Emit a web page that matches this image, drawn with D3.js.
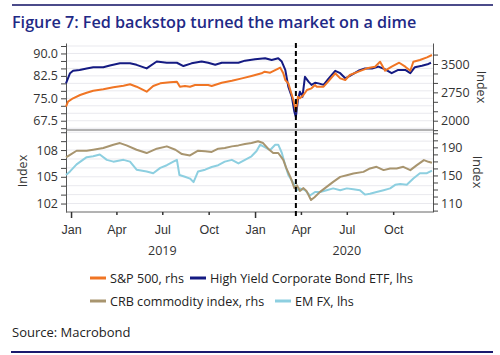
<!DOCTYPE html>
<html><head><meta charset="utf-8">
<script src="https://cdn.jsdelivr.net/npm/d3@7"></script>
<style>
html,body{margin:0;padding:0;background:#fff;}
svg{display:block;font-family:"Open Sans",sans-serif;}
</style></head>
<body><svg id="c" width="500" height="355"></svg>
<script>
// ---------------- DATA ----------------
const hyDates = ["2018-12-22","2018-12-30","2019-01-05","2019-01-18","2019-02-01","2019-02-14","2019-03-06","2019-03-19","2019-04-08","2019-04-28","2019-05-11","2019-05-31","2019-06-20","2019-07-10","2019-07-30","2019-08-12","2019-08-28","2019-09-17","2019-09-30","2019-10-14","2019-10-27","2019-11-09","2019-11-29","2019-12-12","2020-01-01","2020-01-21","2020-02-03","2020-02-16","2020-02-23","2020-03-01","2020-03-07","2020-03-14","2020-03-19","2020-03-22","2020-03-26","2020-03-30","2020-04-04","2020-04-09","2020-04-16","2020-04-22","2020-04-29","2020-05-06","2020-05-16","2020-05-25","2020-06-08","2020-06-18","2020-06-28","2020-07-07","2020-07-24","2020-08-06","2020-08-20","2020-09-02","2020-09-15","2020-09-28","2020-10-11","2020-10-25","2020-11-04","2020-11-13","2020-11-27","2020-12-10","2020-12-15"];
const hyValues = [80.0,83.4,84.2,84.5,85.0,85.4,85.4,86.0,86.7,86.7,86.2,85.0,87.3,86.9,86.9,85.8,86.7,87.3,86.9,86.2,86.9,86.9,86.9,87.6,88.1,88.4,87.8,88.4,87.3,84.5,78.9,75.5,70.5,68.8,74.4,77.2,75.5,82.2,80.6,79.5,80.2,80.0,79.5,81.4,84.2,83.4,81.7,82.5,84.2,85.0,85.0,85.6,84.7,83.4,84.5,84.5,83.4,85.4,85.9,86.5,86.9];

const spxDates = ["2018-12-22","2018-12-26","2019-01-05","2019-01-19","2019-02-01","2019-02-14","2019-03-06","2019-03-26","2019-04-15","2019-04-28","2019-05-11","2019-05-31","2019-06-13","2019-06-27","2019-07-16","2019-07-30","2019-08-05","2019-08-15","2019-08-25","2019-09-04","2019-09-30","2019-10-07","2019-10-27","2019-11-16","2019-12-06","2019-12-25","2020-01-14","2020-01-20","2020-01-31","2020-02-20","2020-02-26","2020-03-01","2020-03-07","2020-03-12","2020-03-17","2020-03-22","2020-03-26","2020-03-30","2020-04-06","2020-04-13","2020-04-22","2020-04-29","2020-05-02","2020-05-16","2020-05-25","2020-06-08","2020-06-18","2020-06-28","2020-07-07","2020-07-24","2020-08-10","2020-08-26","2020-09-05","2020-09-15","2020-09-28","2020-10-13","2020-10-25","2020-11-04","2020-11-10","2020-11-23","2020-12-07","2020-12-17"];
const spxValues = [2370,2503,2593,2680,2741,2794,2830,2884,2926,2963,2900,2767,2918,2989,3016,3032,2900,2920,2900,2944,2944,2918,3005,3058,3120,3183,3254,3297,3271,3404,3254,3077,2989,2767,2548,2250,2635,2593,2680,2812,2857,2944,2900,2900,3032,3254,3120,3077,3209,3297,3386,3429,3560,3323,3429,3534,3429,3323,3560,3606,3677,3738];

const crbDates = ["2018-12-22","2018-12-30","2019-01-12","2019-02-01","2019-02-14","2019-03-06","2019-03-26","2019-04-08","2019-04-21","2019-05-11","2019-05-31","2019-06-20","2019-07-10","2019-07-27","2019-08-09","2019-08-25","2019-09-10","2019-09-24","2019-10-07","2019-10-20","2019-11-02","2019-11-16","2019-11-29","2019-12-12","2019-12-25","2020-01-07","2020-01-17","2020-01-27","2020-02-06","2020-02-16","2020-02-26","2020-03-03","2020-03-12","2020-03-19","2020-03-24","2020-03-30","2020-04-06","2020-04-12","2020-04-21","2020-04-28","2020-05-09","2020-05-22","2020-06-04","2020-06-18","2020-07-01","2020-07-14","2020-08-03","2020-08-16","2020-08-29","2020-09-12","2020-09-25","2020-10-08","2020-10-21","2020-11-04","2020-11-17","2020-12-01","2020-12-10","2020-12-17"];
const crbValues = [175.7,179.4,185.2,185.2,186.6,189.0,193.8,196.1,192.8,186.6,181.9,188.1,191.4,186.6,180.4,178.5,185.2,184.3,183.5,188.1,189.0,191.4,192.8,194.7,196.1,198.6,196.1,188.1,181.9,182.0,172.3,160.4,146.1,131.9,136.0,128.0,132.0,128.0,115.0,119.0,126.6,133.7,140.9,148.0,150.4,152.9,155.1,160.0,162.3,157.6,160.0,160.0,162.3,157.6,164.7,171.9,169.4,168.0];

const emDates = ["2018-12-22","2018-12-30","2019-01-12","2019-02-01","2019-02-14","2019-02-27","2019-03-13","2019-03-26","2019-04-15","2019-04-28","2019-05-11","2019-05-31","2019-06-13","2019-06-27","2019-07-10","2019-07-23","2019-07-30","2019-08-04","2019-08-15","2019-08-25","2019-09-01","2019-09-10","2019-09-24","2019-10-07","2019-10-20","2019-11-02","2019-11-16","2019-11-29","2019-12-12","2019-12-25","2020-01-04","2020-01-11","2020-01-21","2020-01-31","2020-02-10","2020-02-16","2020-02-23","2020-03-01","2020-03-07","2020-03-17","2020-03-24","2020-03-30","2020-04-09","2020-04-19","2020-04-29","2020-05-09","2020-05-22","2020-06-04","2020-06-18","2020-07-01","2020-07-14","2020-07-27","2020-08-06","2020-08-16","2020-08-29","2020-09-12","2020-09-25","2020-10-05","2020-10-15","2020-10-28","2020-11-10","2020-11-23","2020-12-07","2020-12-17"];
const emValues = [105.2,105.6,106.4,107.2,107.3,107.5,106.9,106.7,106.9,106.7,105.8,105.6,105.4,106.0,106.3,106.7,106.9,105.2,105.0,104.8,104.4,105.6,105.8,106.1,106.3,106.7,106.9,106.5,106.9,107.3,107.9,108.6,108.3,108.0,108.6,108.6,107.7,106.3,105.2,104.3,103.5,103.7,103.5,102.9,103.3,103.3,103.5,103.7,103.5,103.7,103.6,103.5,103.0,103.1,103.3,103.5,103.7,104.1,104.2,104.1,104.8,105.4,105.4,105.7];

const xTickDates = ["2019-01-01","2019-04-01","2019-07-01","2019-10-01","2020-01-01","2020-04-01","2020-07-01","2020-10-01"];
const xTickLabels = ["Jan","Apr","Jul","Oct","Jan","Apr","Jul","Oct"];
const yearLabels = ["2019","2020"];
const yearCenters = ["2019-07-01","2020-07-01"];
const topLeftTicks = [67.5,75.0,82.5,90.0];
const topRightTicks = [2000,2750,3500];
const botLeftTicks = [102,105,108];
const botRightTicks = [110,150,190];
const markerDate = "2020-03-22";
const legendItems = [
  {name:"S&P 500, rhs", color:"#f07524"},
  {name:"High Yield Corporate Bond ETF, lhs", color:"#141a82"},
  {name:"CRB commodity index, rhs", color:"#a8956f"},
  {name:"EM FX, lhs", color:"#8dcfe0"}
];
const titleText = "Figure 7: Fed backstop turned the market on a dime";
const sourceText = "Source: Macrobond";

// ---------------- CHART ----------------
const P = d3.utcParse("%Y-%m-%d");
const svg = d3.select("#c");
const L = 66, R = 433, T1 = 43, B1 = 130, T2 = 130, B2 = 212;
const textCol = "#333";

const x = d3.scaleUtc().domain([P("2018-12-22"), P("2020-12-19")]).range([L, R]);
const yTL = d3.scaleLinear().domain([64.4, 93.5]).range([B1, T1]);
const yTR = d3.scaleLinear().domain([1754, 4056]).range([B1, T1]);
const yBL = d3.scaleLinear().domain([101.05, 110.25]).range([B2, T2]);
const yBR = d3.scaleLinear().domain([98, 214.7]).range([B2, T2]);

// header / footer rules
svg.append("line").attr("x1",12).attr("x2",493).attr("y1",5).attr("y2",5).attr("stroke","#4b4b8a").attr("stroke-width",2);
svg.append("line").attr("x1",11).attr("x2",493).attr("y1",352).attr("y2",352).attr("stroke","#1a1a6e").attr("stroke-width",2);
svg.append("text").attr("x",12).attr("y",28).attr("fill","#1f2a86").attr("font-size",16.2).attr("font-weight",600).text(titleText);
svg.append("text").attr("x",12).attr("y",337).attr("fill","#222").attr("font-size",13).text(sourceText);

// grid
const gridTop = d3.range(65, 93.1, 2.5);
svg.append("g").selectAll("line").data(gridTop).join("line")
  .attr("x1",L).attr("x2",R).attr("y1",d=>yTL(d)).attr("y2",d=>yTL(d)).attr("stroke","#e9e9ee").attr("stroke-width",1);
const gridBot = d3.range(102, 110.1, 1);
svg.append("g").selectAll("line").data(gridBot).join("line")
  .attr("x1",L).attr("x2",R).attr("y1",d=>yBL(d)).attr("y2",d=>yBL(d)).attr("stroke","#e9e9ee").attr("stroke-width",1);

// axes
function axisStyle(g){
  g.selectAll("path").attr("stroke","#555");
  g.selectAll("line").attr("stroke","#444");
  g.selectAll("text").attr("fill",textCol).attr("font-size",12.5).attr("font-family","Open Sans, sans-serif");
}
svg.append("g").attr("transform",`translate(${L},0)`)
  .call(d3.axisLeft(yTL).tickValues(d3.range(65,93.1,2.5)).tickSize(5).tickFormat(d=>topLeftTicks.includes(d)?d3.format(".1f")(d):"").tickSizeOuter(0))
  .call(axisStyle);
svg.append("g").attr("transform",`translate(${R},0)`)
  .call(d3.axisRight(yTR).tickValues(d3.range(1750,4000,250)).tickSize(5).tickFormat(d=>topRightTicks.includes(d)?d:"").tickSizeOuter(0))
  .call(axisStyle);
svg.append("g").attr("transform",`translate(${L},0)`)
  .call(d3.axisLeft(yBL).tickValues(d3.range(102,110.1,1)).tickSize(5).tickFormat(d=>botLeftTicks.includes(d)?d:"").tickSizeOuter(0))
  .call(axisStyle);
svg.append("g").attr("transform",`translate(${R},0)`)
  .call(d3.axisRight(yBR).tickValues(d3.range(100,211,10)).tickSize(5).tickFormat(d=>botRightTicks.includes(d)?d:"").tickSizeOuter(0))
  .call(axisStyle);

// panel borders
svg.append("line").attr("x1",L).attr("x2",R).attr("y1",B1).attr("y2",B1).attr("stroke","#666");
svg.append("line").attr("x1",L).attr("x2",R).attr("y1",B2).attr("y2",B2).attr("stroke","#666");

// x axis
const xt = xTickDates.map(P);
const xg = svg.append("g").attr("transform",`translate(0,${B2})`)
  .call(d3.axisBottom(x).tickValues(xt).tickSizeOuter(0).tickSize(3).tickFormat((d,i)=>xTickLabels[i]).tickPadding(10));
xg.select(".domain").remove();
xg.selectAll(".tick line").attr("stroke","#333").attr("stroke-width",1.5).attr("y2",(d,i)=>xTickLabels[i]==="Jan"?6:3);
xg.selectAll("text").attr("fill",textCol).attr("font-size",12.5);
svg.append("g").selectAll("text").data(yearLabels).join("text")
  .attr("x",(d,i)=>x(P(yearCenters[i]))).attr("y",255).attr("text-anchor","middle")
  .attr("fill",textCol).attr("font-size",12.5).text(d=>d);

// axis titles
svg.append("text").attr("transform","translate(477,87) rotate(90)").attr("text-anchor","middle").attr("fill",textCol).attr("font-size",12.5).text("Index");
svg.append("text").attr("transform","translate(473,172) rotate(90)").attr("text-anchor","middle").attr("fill",textCol).attr("font-size",12.5).text("Index");
svg.append("text").attr("transform","translate(27,171) rotate(-90)").attr("text-anchor","middle").attr("fill",textCol).attr("font-size",12.5).text("Index");

// lines
function series(dates, vals, ys, color){
  const pts = dates.map((d,i)=>[P(d), vals[i]]);
  svg.append("path").datum(pts)
    .attr("d", d3.line().x(d=>x(d[0])).y(d=>ys(d[1])))
    .attr("fill","none").attr("stroke",color).attr("stroke-width",2).attr("stroke-linejoin","round");
}
series(emDates, emValues, yBL, legendItems[3].color);
series(crbDates, crbValues, yBR, legendItems[2].color);
series(hyDates, hyValues, yTL, legendItems[1].color);
series(spxDates, spxValues, yTR, legendItems[0].color);

// marker
svg.append("line").attr("x1",x(P(markerDate))).attr("x2",x(P(markerDate))).attr("y1",T1).attr("y2",218)
  .attr("stroke","#000").attr("stroke-width",2).attr("stroke-dasharray","5,3");

// legend
const legPos = [[90,278],[190,278],[90,301],[275,301]];
const lg = svg.append("g").selectAll("g").data(legendItems).join("g")
  .attr("transform",(d,i)=>`translate(${legPos[i][0]},${legPos[i][1]})`);
lg.append("line").attr("x1",0).attr("x2",16).attr("stroke",d=>d.color).attr("stroke-width",3);
lg.append("text").attr("x",20).attr("y",4.5).attr("fill","#222").attr("font-size",12.6).text(d=>d.name);
</script></body></html>
